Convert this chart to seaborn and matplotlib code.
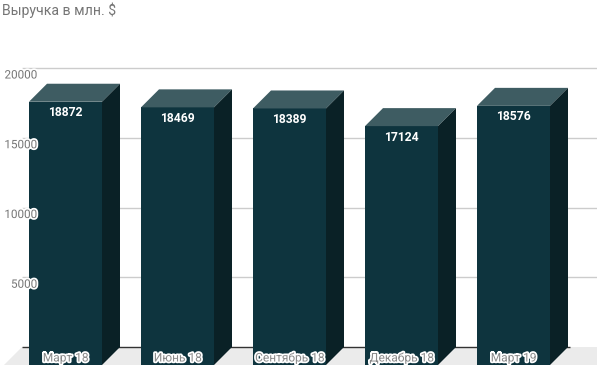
import matplotlib
matplotlib.use("Agg")
import matplotlib.pyplot as plt
import matplotlib.patheffects as pe
from matplotlib.patches import Polygon, Rectangle
from matplotlib.transforms import Affine2D, IdentityTransform, blended_transform_factory, offset_copy
import seaborn as sns
import pandas as pd

categories = ["Март 18", "Июнь 18", "Сентябрь 18", "Декабрь 18", "Март 19"]
revenue = [18872, 18469, 18389, 17124, 18576]
y_ticks = [5000, 10000, 15000, 20000]
title = "Выручка в млн. $"

df = pd.DataFrame({"period": categories, "revenue": revenue})

sns.set_theme(style="white")
plt.rcParams["font.family"] = ["Roboto", "DejaVu Sans"]

W, H = 597, 368
fig = plt.figure(figsize=(W / 100, H / 100), dpi=100)
ax = fig.add_axes([0, 0, 1, 1])
ax.patch.set_alpha(0)

FRONT_COLOR = "#0e343e"
TOP_COLOR = "#3e5c62"
SIDE_COLOR = "#0a2126"
DEPTH = 18
k = 279 / 20000.0  # px per unit

sns.barplot(data=df, x="period", y="revenue", color=FRONT_COLOR, saturation=1,
            width=73 / 112, linewidth=0, ax=ax, zorder=3)
bars = [p for p in ax.patches if isinstance(p, Rectangle)]

ax.set_xlim(-65.5 / 112, (W - 65.5) / 112)
ax.set_ylim(-(H - 365) / k, 365 / k)
ax.axis("off")

back = ax.transData + Affine2D().translate(DEPTH, DEPTH)


def disp(px, py):
    return (px, H - py)


# floor
floor = Polygon([disp(4, 365), disp(600, 365), disp(618, 347), disp(22, 347)],
                closed=True, facecolor="#ebebeb", edgecolor="none",
                transform=IdentityTransform(), zorder=0)
ax.add_artist(floor)

# gridlines in back plane
xleft_back = (22 - 83.5) / 112
xright_back = (W + 20 - 83.5) / 112
for t in y_ticks:
    ax.plot([xleft_back, xright_back], [t, t], color="#cccccc", lw=1,
            transform=back, zorder=1, solid_capstyle="butt")
ax.plot([xleft_back, (570 - 83.5) / 112], [0, 0], color="#333333", lw=1,
        transform=back, zorder=1, solid_capstyle="butt")

# 3D top and side faces
for p in bars:
    x0, y0 = p.get_x(), p.get_y()
    x1, y1 = x0 + p.get_width(), y0 + p.get_height()
    (dx0, dy0), (dx1, dy1) = ax.transData.transform([(x0, y0), (x1, y1)])
    top = Polygon([(dx0, dy1), (dx1, dy1), (dx1 + DEPTH, dy1 + DEPTH), (dx0 + DEPTH, dy1 + DEPTH)],
                  closed=True, facecolor=TOP_COLOR, edgecolor="none",
                  transform=IdentityTransform(), zorder=3)
    side = Polygon([(dx1, dy0), (dx1, dy1), (dx1 + DEPTH, dy1 + DEPTH), (dx1 + DEPTH, dy0 + DEPTH)],
                   closed=True, facecolor=SIDE_COLOR, edgecolor="none",
                   transform=IdentityTransform(), zorder=3)
    ax.add_artist(top)
    ax.add_artist(side)

# value labels
for i, v in enumerate(revenue):
    ax.text(i, v, f"{v}", transform=offset_copy(ax.transData, fig, x=0, y=-11, units="dots"),
            ha="center", va="center", color="white", fontsize=8.7, fontweight="bold", zorder=5)

halo = [pe.withStroke(linewidth=2.5, foreground="white")]

# category labels
for i, c in enumerate(categories):
    ax.text(i, 0, c, transform=offset_copy(ax.transData, fig, x=0, y=7, units="dots"),
            ha="center", va="center", color="#8a8a8a", fontsize=8.6, zorder=6,
            path_effects=halo)

# y tick labels
ytrans = blended_transform_factory(fig.transFigure, back)
for t in y_ticks:
    ax.text(37 / W, t, f"{t}", transform=offset_copy(ytrans, fig, x=0, y=-7, units="dots"),
            ha="right", va="center", color="#757575", fontsize=8.4, zorder=6,
            path_effects=halo, clip_on=False)

fig.text(2 / W, 1 - 10 / H, title, ha="left", va="center", color="#757575", fontsize=10.1)

fig.savefig("out.png", dpi=100)
